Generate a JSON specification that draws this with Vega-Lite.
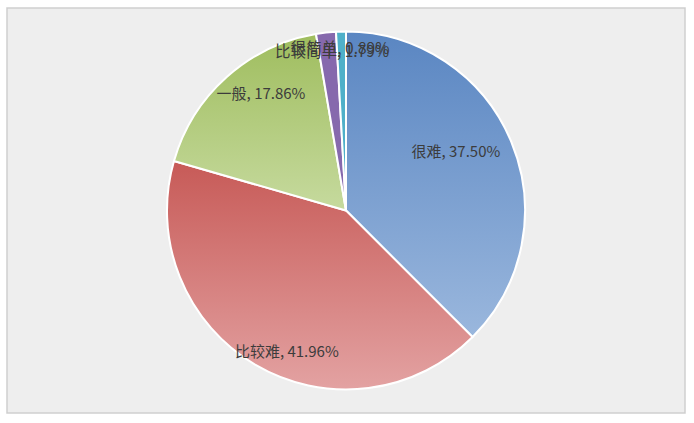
{
  "$schema": "https://vega.github.io/schema/vega-lite/v6.json",
  "width": 694,
  "height": 423,
  "autosize": {"type": "fit", "contains": "padding"},
  "padding": {"left": 7, "right": 9, "top": 8, "bottom": 10},
  "background": "white",
  "view": {"fill": "#eeeeee", "stroke": "#cfcfcf", "strokeWidth": 1.5},
  "data": {
    "values": [
      {"cat": "很难", "pct": 37.50, "rank": 1},
      {"cat": "比较难", "pct": 41.96, "rank": 2},
      {"cat": "一般", "pct": 17.86, "rank": 3},
      {"cat": "比较简单", "pct": 1.79, "rank": 4},
      {"cat": "很简单", "pct": 0.89, "rank": 5}
    ]
  },
  "transform": [
    {"calculate": "datum.cat + ', ' + format(datum.pct, '.2f') + '%'", "as": "label"}
  ],
  "encoding": {
    "theta": {"field": "pct", "type": "quantitative", "stack": true},
    "order": {"field": "rank", "type": "quantitative"},
    "detail": {"field": "cat", "type": "nominal"}
  },
  "layer": [
    {
      "mark": {"type": "arc", "outerRadius": 179, "stroke": "white", "strokeWidth": 2},
      "encoding": {
        "fill": {
          "condition": [
            {"test": "datum.cat === '很难'", "value": {"gradient": "linear", "x1": 0, "y1": 0, "x2": 0, "y2": 1, "stops": [{"offset": 0, "color": "#5a86c2"}, {"offset": 1, "color": "#9ab7dd"}]}},
            {"test": "datum.cat === '比较难'", "value": {"gradient": "linear", "x1": 0, "y1": 0, "x2": 0, "y2": 1, "stops": [{"offset": 0, "color": "#c75a57"}, {"offset": 1, "color": "#e3a2a2"}]}},
            {"test": "datum.cat === '一般'", "value": {"gradient": "linear", "x1": 0, "y1": 0, "x2": 0, "y2": 1, "stops": [{"offset": 0, "color": "#9fbd5e"}, {"offset": 1, "color": "#c6da9e"}]}},
            {"test": "datum.cat === '比较简单'", "value": "#8669ad"}
          ],
          "value": "#4fb0c9"
        }
      }
    },
    {
      "mark": {"type": "text", "radius": 120, "dx": -1, "dy": -13, "font": "Noto Sans CJK SC", "fontSize": 15, "fill": "#3c3c3c"},
      "encoding": {"text": {"condition": {"test": "datum.cat === '很难'", "field": "label", "type": "nominal"}, "value": ""}}
    },
    {
      "mark": {"type": "text", "radius": 150, "dx": 17, "dy": 12, "font": "Noto Sans CJK SC", "fontSize": 15, "fill": "#3c3c3c"},
      "encoding": {"text": {"condition": {"test": "datum.cat === '比较难'", "field": "label", "type": "nominal"}, "value": ""}}
    },
    {
      "mark": {"type": "text", "radius": 150, "dx": 15, "dy": -5, "font": "Noto Sans CJK SC", "fontSize": 15, "fill": "#3c3c3c"},
      "encoding": {"text": {"condition": {"test": "datum.cat === '一般'", "field": "label", "type": "nominal"}, "value": ""}}
    },
    {
      "mark": {"type": "text", "radius": 160, "dx": 61, "dy": 0, "align": "right", "font": "Noto Sans CJK SC", "fontSize": 15.5, "fill": "#3c3c3c"},
      "encoding": {"text": {"condition": {"test": "datum.cat === '比较简单'", "field": "label", "type": "nominal"}, "value": ""}}
    },
    {
      "mark": {"type": "text", "radius": 162, "dx": 48, "dy": 0, "align": "right", "font": "Noto Sans CJK SC", "fontSize": 15.5, "fill": "#3c3c3c"},
      "encoding": {"text": {"condition": {"test": "datum.cat === '很简单'", "field": "label", "type": "nominal"}, "value": ""}}
    }
  ]
}
